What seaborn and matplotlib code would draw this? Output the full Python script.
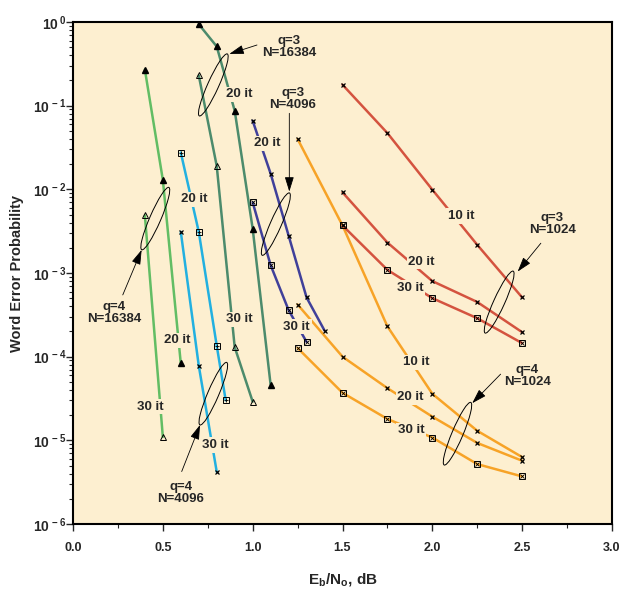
import numpy as np
import pandas as pd
import matplotlib.pyplot as plt
import matplotlib.ticker as mticker
import matplotlib.transforms as mtransforms
from matplotlib.patches import Ellipse
import seaborn as sns

# word error probability vs Eb/No
# q=4, N=16384
q4_16384_20_x = [0.4, 0.5, 0.6]
q4_16384_20_y = [0.27, 0.013, 8.3e-5]
q4_16384_30_x = [0.4, 0.5]
q4_16384_30_y = [4.9e-3, 1.1e-5]
# q=4, N=4096
q4_4096_20_x = [0.6, 0.7, 0.8, 0.85]
q4_4096_20_y = [0.0275, 3.1e-3, 1.35e-4, 3.0e-5]
q4_4096_30_x = [0.6, 0.7, 0.8]
q4_4096_30_y = [3.1e-3, 7.8e-5, 4.2e-6]
# q=3, N=16384
q3_16384_20_x = [0.7, 0.8, 0.9, 1.0, 1.1]
q3_16384_20_y = [0.94, 0.51, 0.087, 3.4e-3, 4.6e-5]
q3_16384_30_x = [0.7, 0.8, 0.9, 1.0]
q3_16384_30_y = [0.23, 0.019, 1.3e-4, 2.9e-5]
# q=3, N=4096
q3_4096_20_x = [1.0, 1.1, 1.2, 1.3, 1.4]
q3_4096_20_y = [0.066, 0.0154, 2.8e-3, 5.1e-4, 2.05e-4]
q3_4096_30_x = [1.0, 1.1, 1.2, 1.3]
q3_4096_30_y = [7.0e-3, 1.24e-3, 3.6e-4, 1.5e-4]
# q=4, N=1024
q4_1024_10_x = [1.25, 1.5, 1.75, 2.0, 2.25, 2.5]
q4_1024_10_y = [0.040, 3.7e-3, 2.3e-4, 3.6e-5, 1.3e-5, 6.3e-6]
q4_1024_20_x = [1.25, 1.5, 1.75, 2.0, 2.25, 2.5]
q4_1024_20_y = [4.2e-4, 1.0e-4, 4.2e-5, 1.92e-5, 9.3e-6, 5.7e-6]
q4_1024_30_x = [1.25, 1.5, 1.75, 2.0, 2.25, 2.5]
q4_1024_30_y = [1.27e-4, 3.7e-5, 1.8e-5, 1.08e-5, 5.2e-6, 3.7e-6]
# q=3, N=1024
q3_1024_10_x = [1.5, 1.75, 2.0, 2.25, 2.5]
q3_1024_10_y = [0.178, 0.047, 9.9e-3, 2.17e-3, 5.1e-4]
q3_1024_20_x = [1.5, 1.75, 2.0, 2.25, 2.5]
q3_1024_20_y = [9.2e-3, 2.31e-3, 8.0e-4, 4.5e-4, 1.96e-4]
q3_1024_30_x = [1.5, 1.75, 2.0, 2.25, 2.5]
q3_1024_30_y = [3.7e-3, 1.09e-3, 5.0e-4, 2.88e-4, 1.45e-4]

bg = "#fdefd0"
c_lgreen = "#62bd64"
c_cyan = "#22b0e0"
c_dgreen = "#4c8b6c"
c_indigo = "#40409a"
c_orange = "#f7a327"
c_red = "#d4533f"

sns.set_style("ticks")
plt.rcParams["font.family"] = ["Liberation Sans", "DejaVu Sans"]
plt.rcParams["font.weight"] = "bold"
plt.rcParams["mathtext.fontset"] = "custom"
plt.rcParams["mathtext.rm"] = "Liberation Sans:bold"
plt.rcParams["mathtext.it"] = "Liberation Sans:bold"
plt.rcParams["mathtext.bf"] = "Liberation Sans:bold"
plt.rcParams["mathtext.default"] = "rm"

# (x, y, colour, marker kind)
curves = [
    (q4_16384_20_x, q4_16384_20_y, c_lgreen, "tri"),
    (q4_16384_30_x, q4_16384_30_y, c_lgreen, "otri"),
    (q4_4096_20_x, q4_4096_20_y, c_cyan, "sqplus"),
    (q4_4096_30_x, q4_4096_30_y, c_cyan, "x"),
    (q3_16384_20_x, q3_16384_20_y, c_dgreen, "tri"),
    (q3_16384_30_x, q3_16384_30_y, c_dgreen, "otri"),
    (q3_4096_20_x, q3_4096_20_y, c_indigo, "x"),
    (q3_4096_30_x, q3_4096_30_y, c_indigo, "sqx"),
    (q4_1024_10_x, q4_1024_10_y, c_orange, "x"),
    (q4_1024_20_x, q4_1024_20_y, c_orange, "x"),
    (q4_1024_30_x, q4_1024_30_y, c_orange, "sqx"),
    (q3_1024_10_x, q3_1024_10_y, c_red, "x"),
    (q3_1024_20_x, q3_1024_20_y, c_red, "x"),
    (q3_1024_30_x, q3_1024_30_y, c_red, "sqx"),
]

fig, ax = plt.subplots(figsize=(6.31, 5.99), dpi=100)
ax.set_position([73 / 631, 1 - 524 / 599, 539 / 631, 502 / 599])
ax.set_facecolor(bg)

for xs, ys, col, mk in curves:
    df = pd.DataFrame({"x": xs, "y": ys})
    sns.lineplot(data=df, x="x", y="y", ax=ax, color=col, lw=1.8, estimator=None, zorder=2)
    if mk == "tri":
        ax.plot(df["x"], df["y"], ls="none", marker="^", ms=4.5, mfc="k", mec="k", zorder=4)
    elif mk == "otri":
        ax.plot(df["x"], df["y"], ls="none", marker="^", ms=4.5, mfc="none", mec="k", mew=0.7, zorder=4)
    elif mk == "x":
        ax.plot(df["x"], df["y"], ls="none", marker="x", ms=3.5, mec="k", mew=0.9, zorder=4)
    else:
        inner = "x" if mk == "sqx" else "+"
        ax.plot(df["x"], df["y"], ls="none", marker="s", ms=4.2, mfc="none", mec="k", mew=0.7, zorder=4)
        ax.plot(df["x"], df["y"], ls="none", marker=inner, ms=3.2, mec="k", mew=0.6, zorder=4)

ax.set_yscale("log")
ax.set_xlim(0, 3.0)
ax.set_ylim(1e-6, 1)

# iteration labels (boxes cut the lines like in the original)
it_labels = [
    (2.159, 4.8e-3, "10 it"), (1.94, 1.37e-3, "20 it"), (1.875, 6.7e-4, "30 it"),
    (1.912, 8.6e-5, "10 it"), (1.879, 3.3e-5, "20 it"), (1.881, 1.32e-5, "30 it"),
    (1.083, 0.0355, "20 it"), (1.245, 2.29e-4, "30 it"),
    (0.924, 0.137, "20 it"), (0.924, 2.8e-4, "30 it"),
    (0.673, 7.6e-3, "20 it"), (0.79, 8.8e-6, "30 it"),
    (0.583, 1.57e-4, "20 it"), (0.428, 2.53e-5, "30 it"),
]
for x, y, t in it_labels:
    ax.text(x, y, t, ha="center", va="center", fontsize=9.5, fontweight="bold", zorder=3,
            bbox=dict(boxstyle="square,pad=0.12", fc=bg, ec="none"))

# q / N annotations
groups = [
    ("q=3\nN=16384", (1.204, 0.507), (0.870, 0.415), (1.024, 0.531), (0.781, 0.177), 65.7),
    ("q=3\nN=4096", (1.223, 0.119), (1.204, 9.4e-3), (1.204, 0.081), (1.129, 3.84e-3), 66.4),
    ("q=4\nN=16384", (0.230, 3.3e-4), (0.382, 1.89e-3), (0.277, 5.47e-4), (0.458, 4.47e-3), 66.5),
    ("q=4\nN=4096", (0.601, 2.34e-6), (0.707, 1.53e-5), (0.605, 4.24e-6), (0.781, 3.61e-5), 66.8),
    ("q=3\nN=1024", (2.668, 3.83e-3), (2.475, 1.04e-3), (2.604, 2.27e-3), (2.372, 4.49e-4), 65.6),
    ("q=4\nN=1024", (2.53, 5.9e-5), (2.222, 2.78e-5), (2.38, 6.18e-5), (2.140, 1.2e-5), 67.0),
]
for txt, tpos, tip, tail, ecen, ang in groups:
    ax.text(tpos[0], tpos[1], txt, ha="center", va="center", fontsize=9.5,
            fontweight="bold", linespacing=1.0, zorder=5)
    ax.annotate("", xy=tip, xytext=tail, zorder=5,
                arrowprops=dict(arrowstyle="-|>,head_length=0.9,head_width=0.28",
                                lw=0.6, color="k", shrinkA=0, shrinkB=0))
    tr = fig.dpi_scale_trans + mtransforms.ScaledTranslation(ecen[0], ecen[1], ax.transData)
    ax.add_artist(Ellipse((0, 0), width=0.68, height=0.11, angle=ang, transform=tr,
                          fill=False, ec="k", lw=0.7, zorder=5))

ax.xaxis.set_major_locator(mticker.MultipleLocator(0.5))
ax.xaxis.set_minor_locator(mticker.MultipleLocator(0.25))
ax.xaxis.set_major_formatter(mticker.FormatStrFormatter("%.1f"))
yt = [1e-6, 1e-5, 1e-4, 1e-3, 1e-2, 1e-1, 1]
ax.set_yticks(yt)
ax.set_yticklabels([r"$10^{\,%d}$" % e for e in range(-6, 1)])
ax.yaxis.set_minor_locator(mticker.LogLocator(base=10, subs=np.arange(2, 10)))
ax.yaxis.set_minor_formatter(mticker.NullFormatter())
ax.tick_params(axis="both", which="major", direction="out", length=5, width=1.0,
               labelsize=9, pad=8)
ax.tick_params(axis="y", which="major", labelsize=10, pad=0)
ax.tick_params(axis="both", which="minor", direction="out", length=3, width=0.8)
for s in ax.spines.values():
    s.set_linewidth(1.5)
    s.set_color("k")

ax.set_xlabel(r"E$_b$/N$_o$, dB", fontsize=11, fontweight="bold", labelpad=12)
ax.set_ylabel("Word Error Probability", fontsize=10.5, fontweight="bold")
ax.yaxis.set_label_coords(-0.09, 0.5)

fig.savefig("out.png", dpi=100)
